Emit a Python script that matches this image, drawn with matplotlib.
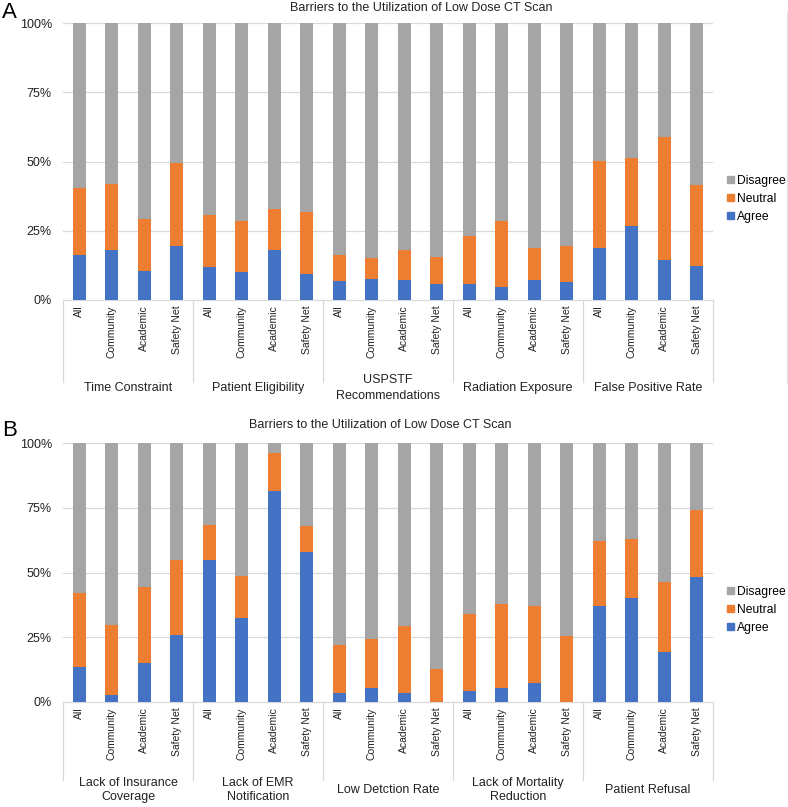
import matplotlib
matplotlib.use("Agg")
import matplotlib.pyplot as plt
from matplotlib.patches import Patch
from matplotlib.transforms import blended_transform_factory
import numpy as np

plt.rcParams['font.family'] = ['Liberation Sans', 'DejaVu Sans']

sub_labels = ["All", "Community", "Academic", "Safety Net"]
title = "Barriers to the Utilization of Low Dose CT Scan"

groups_a = ["Time Constraint", "Patient Eligibility", "USPSTF\nRecommendations",
            "Radiation Exposure", "False Positive Rate"]
agree_a = [16.3, 18.1, 10.6, 19.6,
           12.0, 10.1, 18.2, 9.3,
           6.9, 7.5, 7.2, 5.9,
           5.9, 4.8, 7.3, 6.4,
           18.6, 26.7, 14.5, 12.4]
agree_neutral_a = [40.6, 41.8, 29.2, 49.6,
                   30.7, 28.6, 32.9, 31.9,
                   16.3, 15.3, 18.2, 15.7,
                   23.1, 28.7, 18.9, 19.6,
                   50.1, 51.1, 58.9, 41.4]

groups_b = ["Lack of Insurance\nCoverage", "Lack of EMR\nNotification", "Low Detction Rate",
            "Lack of Mortality\nReduction", "Patient Refusal"]
agree_b = [13.7, 2.8, 14.9, 25.7,
           54.7, 32.5, 81.5, 58.0,
           3.4, 5.4, 3.6, 0.0,
           4.1, 5.4, 7.5, 0.0,
           37.0, 40.0, 19.3, 48.3]
agree_neutral_b = [42.0, 29.8, 44.5, 54.9,
                   68.3, 48.6, 96.2, 67.9,
                   22.1, 24.5, 29.5, 12.9,
                   33.9, 37.8, 37.0, 25.6,
                   62.0, 62.9, 46.2, 74.3]

C_AGREE = "#4472C4"
C_NEUTRAL = "#ED7D31"
C_DIS = "#A5A5A5"
GRID = "#D9D9D9"

W, H = 788, 807
fig = plt.figure(figsize=(W / 100, H / 100), dpi=100)


def px_axes(x0, y_top, x1, y_bot):
    return fig.add_axes([x0 / W, 1 - y_bot / H, (x1 - x0) / W, (y_bot - y_top) / H])


def draw_panel(ax, groups, agree, agree_neutral, sep_bottom_px, label_y_px,
               linespacing, title_x, title_y, letter, letter_y, legend_y):
    agree = np.array(agree)
    an = np.array(agree_neutral)
    neutral = an - agree
    disagree = 100 - an
    n = len(agree)
    x = np.arange(n)
    bw = 0.385
    ax.bar(x, agree, bw, color=C_AGREE, zorder=3)
    ax.bar(x, neutral, bw, bottom=agree, color=C_NEUTRAL, zorder=3)
    ax.bar(x, disagree, bw, bottom=an, color=C_DIS, zorder=3)
    ax.set_xlim(-0.5, n - 0.5)
    ax.set_ylim(0, 100)
    ax.set_yticks([0, 25, 50, 75, 100])
    ax.set_yticklabels(["0%", "25%", "50%", "75%", "100%"], fontsize=9, color="#222222")
    ax.yaxis.grid(True, color=GRID, linewidth=0.9, zorder=0)
    ax.set_axisbelow(True)
    for s in ["top", "right", "left"]:
        ax.spines[s].set_visible(False)
    ax.spines["bottom"].set_color(GRID)
    ax.tick_params(axis="y", length=0, pad=8)
    ax.set_xticks(x)
    ax.set_xticklabels(sub_labels * len(groups), rotation=90, fontsize=7.5, color="#222222")
    ax.tick_params(axis="x", length=0, pad=4)

    # group separators and labels
    bbox = ax.get_position()
    ax_h_px = bbox.height * H
    y_ax_bottom_px = (1 - bbox.y0) * H
    sep_y = -(sep_bottom_px - y_ax_bottom_px) / ax_h_px
    lab_y = -(label_y_px - y_ax_bottom_px) / ax_h_px
    trans = blended_transform_factory(ax.transData, ax.transAxes)
    ng = len(groups)
    per = n // ng
    for g in range(ng + 1):
        xb = g * per - 0.5
        ax.plot([xb, xb], [0, sep_y], transform=trans, color=GRID, lw=0.9, clip_on=False)
    for g, name in enumerate(groups):
        xc = g * per + (per - 1) / 2
        ax.text(xc, lab_y, name, transform=trans, ha="center", va="center",
                fontsize=9, color="#222222", linespacing=linespacing, multialignment="center")

    fig.text(title_x / W, 1 - title_y / H, title, ha="center", va="center",
             fontsize=9, color="#222222")
    fig.text(2 / W, 1 - letter_y / H, letter, ha="left", va="center", fontsize=16, color="black")

    handles = [Patch(color=C_DIS, label="Disagree"),
               Patch(color=C_NEUTRAL, label="Neutral"),
               Patch(color=C_AGREE, label="Agree")]
    fig.legend(handles=handles, loc="center left",
               bbox_to_anchor=(727 / W, 1 - legend_y / H), frameon=False,
               fontsize=8.7, handlelength=0.55, handleheight=0.55,
               handletextpad=0.25, labelspacing=0.5, borderpad=0, borderaxespad=0)


ax_a = px_axes(63, 23, 713, 300)
draw_panel(ax_a, groups_a, agree_a, agree_neutral_a, 382, 388, 1.55,
           421, 8, "A", 13, 199)

ax_b = px_axes(63, 443, 713, 702)
draw_panel(ax_b, groups_b, agree_b, agree_neutral_b, 780, 790, 1.2,
           380, 425, "B", 431, 610)

# faint chart border at right edge of panel A
fig.add_artist(plt.Line2D([787 / W, 787 / W], [1 - 12 / H, 1 - 383 / H],
                          color="#E0E0E0", lw=0.8))

fig.savefig("out.png", dpi=100)
